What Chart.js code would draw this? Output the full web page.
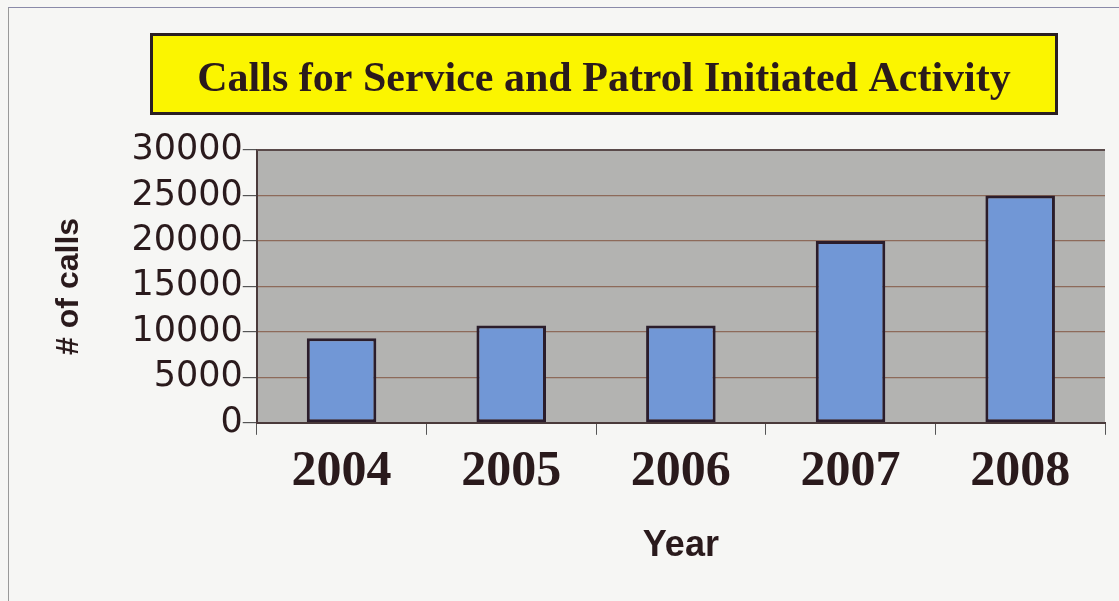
<!DOCTYPE html>
<html>
<head>
<meta charset="utf-8">
<script src="https://cdn.jsdelivr.net/npm/chart.js@4/dist/chart.umd.min.js"></script>
<style>
  html, body { margin: 0; padding: 0; background: #f6f6f4; }
  #wrap { position: absolute; left: 0; top: 0; width: 1119px; height: 601px; }
  #frame { position: absolute; left: 8px; top: 7px; right: 0; bottom: 0;
           border-left: 1px solid #999; border-top: 1px solid #8a8aa8; }
</style>
</head>
<body>
<div id="wrap">
  <div id="frame"></div>
  <canvas id="callsChart" width="1119" height="601"></canvas>
</div>
<script>
// data
const years = ['2004', '2005', '2006', '2007', '2008'];
const calls = [9300, 10700, 10700, 20000, 25000];
const yTicks = [0, 5000, 10000, 15000, 20000, 25000, 30000];
const chartTitle = 'Calls for Service and Patrol Initiated Activity';

document.addEventListener('DOMContentLoaded', () => {
    const ctx = document.getElementById('callsChart').getContext('2d');

    // grey plot area plus the yellow title box
    const backdrop = {
        id: 'backdrop',
        beforeDraw(chart) {
            const c = chart.ctx;
            const a = chart.chartArea;
            c.save();
            c.fillStyle = '#b3b3b1';
            c.fillRect(a.left, a.top, a.right - a.left, a.bottom - a.top);
            // title box
            c.fillStyle = '#fbf500';
            c.fillRect(150, 33, 908, 82);
            c.lineWidth = 3;
            c.strokeStyle = '#2a1f22';
            c.strokeRect(151.5, 34.5, 905, 79);
            c.fillStyle = '#2a1a1c';
            c.font = 'bold 42px "Liberation Serif", "Times New Roman", serif';
            c.textAlign = 'center';
            c.textBaseline = 'middle';
            c.fillText(chartTitle, 604, 80);
            c.restore();
        },
        afterDatasetsDraw(chart) {
            const c = chart.ctx;
            const a = chart.chartArea;
            c.save();
            c.strokeStyle = '#5a4a4a';
            c.lineWidth = 2;
            c.beginPath();
            c.moveTo(a.left, a.top);
            c.lineTo(a.right, a.top);
            c.stroke();
            c.restore();
        }
    };

    new Chart(ctx, {
        type: 'bar',
        data: {
            labels: years,
            datasets: [{
                label: '# of calls',
                data: calls,
                backgroundColor: '#7197d6',
                borderColor: '#2b1d2b',
                borderWidth: 3,
                borderSkipped: false,
                categoryPercentage: 1,
                barPercentage: 0.41
            }]
        },
        options: {
            responsive: false,
            animation: false,
            layout: { padding: { top: 150, right: 14, left: 40, bottom: 33 } },
            plugins: {
                legend: { display: false },
                tooltip: { enabled: false },
                title: { display: false }
            },
            scales: {
                x: {
                    offset: true,
                    grid: { display: true, drawOnChartArea: false, offset: true, drawTicks: true, tickLength: 12, color: '#555' },
                    border: { color: '#4a3a3a', width: 2 },
                    ticks: {
                        color: '#2a1a1c',
                        padding: 7,
                        font: { family: '"Liberation Serif", "Times New Roman", serif', size: 50, weight: 'bold' }
                    },
                    title: {
                        display: true,
                        text: 'Year',
                        color: '#2a1a1c',
                        padding: { top: 16, bottom: 0 },
                        font: { family: '"Liberation Sans", Arial, sans-serif', size: 36, weight: 'bold' }
                    }
                },
                y: {
                    min: 0,
                    max: 30000,
                    afterBuildTicks(axis) { axis.ticks = yTicks.map(v => ({ value: v })); },
                    grid: { color: '#8d6a5a', lineWidth: 1.2, tickLength: 14, tickColor: '#555' },
                    border: { color: '#4a3a3a', width: 2 },
                    ticks: {
                        color: '#2a1a1c',
                        padding: 0,
                        callback: v => String(v),
                        font: { family: '"DejaVu Sans", sans-serif', size: 35 }
                    },
                    title: {
                        display: true,
                        text: '# of calls',
                        color: '#2a1a1c',
                        padding: { top: 10, bottom: 43 },
                        font: { family: '"Liberation Sans", Arial, sans-serif', size: 32, weight: 'bold' }
                    }
                }
            }
        },
        plugins: [backdrop]
    });
});
</script>
</body>
</html>
